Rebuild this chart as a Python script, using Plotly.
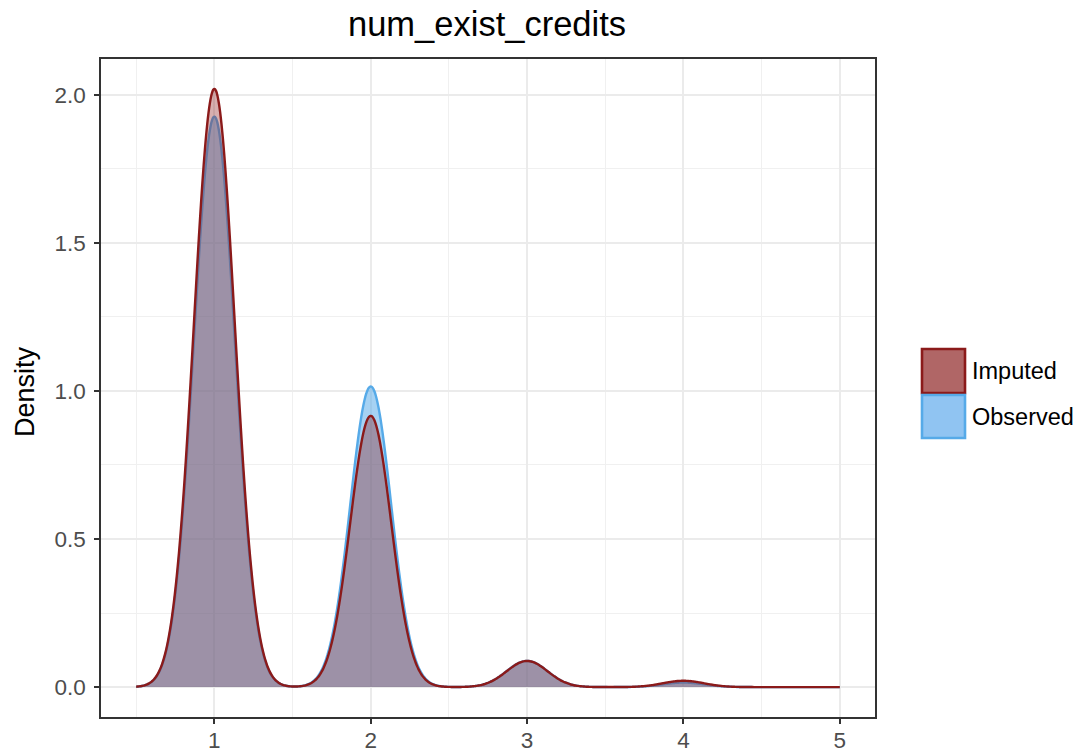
import numpy as np
import plotly.graph_objects as go

# Share of records at each credit count, per group
credit_values = [1, 2, 3, 4]
imputed_share = [0.664, 0.301, 0.029, 0.007]
observed_share = [0.632, 0.333, 0.029, 0.005]
bandwidth = 0.131            # gaussian kernel bandwidth
x_from, x_to = 0.5, 5.0      # span evaluated for the density curves

title_text = "num_exist_credits"
y_title = "Density"
x_ticks = [1, 2, 3, 4, 5]
y_ticks = [0.0, 0.5, 1.0, 1.5, 2.0]

FONT = "Liberation Sans, Arial, Helvetica, sans-serif"
IMP_LINE = "#8B1A1A"
OBS_LINE = "rgb(86,170,232)"


def kde(values, weights, grid, h):
    """Weighted gaussian kernel density over grid."""
    v = np.asarray(values, float)[:, None]
    w = np.asarray(weights, float)[:, None]
    w = w / w.sum()
    z = (grid[None, :] - v) / h
    return (w * np.exp(-0.5 * z ** 2)).sum(axis=0) / (h * np.sqrt(2 * np.pi))


grid = np.linspace(x_from, x_to, 512)
dens_obs = kde(credit_values, observed_share, grid, bandwidth)
dens_imp = kde(credit_values, imputed_share, grid, bandwidth)

fig = go.Figure()
fig.add_trace(go.Scatter(
    x=grid, y=dens_obs, mode="lines", name="Observed",
    fill="tozeroy", fillcolor="rgba(86,170,232,0.53)",
    line=dict(color=OBS_LINE, width=2.4, shape="spline", smoothing=0.6),
    showlegend=False, hoverinfo="x+y"))
fig.add_trace(go.Scatter(
    x=grid, y=dens_imp, mode="lines", name="Imputed",
    fill="tozeroy", fillcolor="rgba(139,26,26,0.35)",
    line=dict(color=IMP_LINE, width=2.4, shape="spline", smoothing=0.6),
    showlegend=False, hoverinfo="x+y"))

# plot area in pixels
W, H = 1086, 755
L, R, T, B = 101, 875, 59, 717
pw, ph = R - L, B - T


def px_x(p):
    return (p - L) / pw


def px_y(p):
    return (B - p) / ph


axis_common = dict(
    showline=True, linecolor="#333333", linewidth=1.5, mirror=True,
    ticks="outside", ticklen=5, tickwidth=1.5, tickcolor="#333333",
    tickfont=dict(family=FONT, size=22.5, color="#4d4d4d"),
    showgrid=True, gridcolor="#ebebeb", gridwidth=1.7,
    zeroline=False, automargin=False,
)

xr = (x_to - x_from) * 0.05
ymax = float(max(dens_obs.max(), dens_imp.max()))
yr = ymax * 0.05

fig.update_layout(
    width=W, height=H,
    margin=dict(l=L, r=W - R, t=T, b=H - B, pad=0, autoexpand=False),
    paper_bgcolor="white", plot_bgcolor="white",
    font=dict(family=FONT),
    xaxis=dict(axis_common, range=[x_from - xr, x_to + xr],
               tickvals=x_ticks, ticklabelstandoff=-3,
               minor=dict(tick0=0.5, dtick=1, showgrid=True,
                          gridcolor="#f0f0f0", gridwidth=1.0, ticks="")),
    yaxis=dict(axis_common, range=[-yr, ymax + yr],
               tickvals=y_ticks, tickformat=".1f", ticklabelstandoff=4,
               minor=dict(tick0=0.25, dtick=0.5, showgrid=True,
                          gridcolor="#f0f0f0", gridwidth=1.0, ticks="")),
    showlegend=False,
)

annotations = [
    dict(text=title_text, xref="paper", yref="paper",
         x=px_x(487), y=px_y(24), xanchor="center", yanchor="middle",
         showarrow=False, font=dict(family=FONT, size=34.5, color="black")),
    dict(text=y_title, xref="paper", yref="paper",
         x=px_x(25), y=px_y(392), xanchor="center", yanchor="middle",
         textangle=-90, showarrow=False,
         font=dict(family=FONT, size=27, color="black")),
]

# legend keys
legend_items = [
    ("Imputed", "rgb(176,102,102)", IMP_LINE, 349, 393),
    ("Observed", "rgb(144,196,242)", OBS_LINE, 395, 438),
]
shapes = []
for label, fillc, linec, y0, y1 in legend_items:
    shapes.append(dict(type="rect", xref="paper", yref="paper",
                       x0=px_x(922), x1=px_x(965), y0=px_y(y1), y1=px_y(y0),
                       fillcolor=fillc, line=dict(color=linec, width=2.6)))
    annotations.append(dict(text=label, xref="paper", yref="paper",
                            x=px_x(970), y=px_y((y0 + y1) / 2),
                            xanchor="left", yanchor="middle", showarrow=False,
                            font=dict(family=FONT, size=23.5, color="black")))

fig.update_layout(annotations=annotations, shapes=shapes)

fig.write_html("out.html")
